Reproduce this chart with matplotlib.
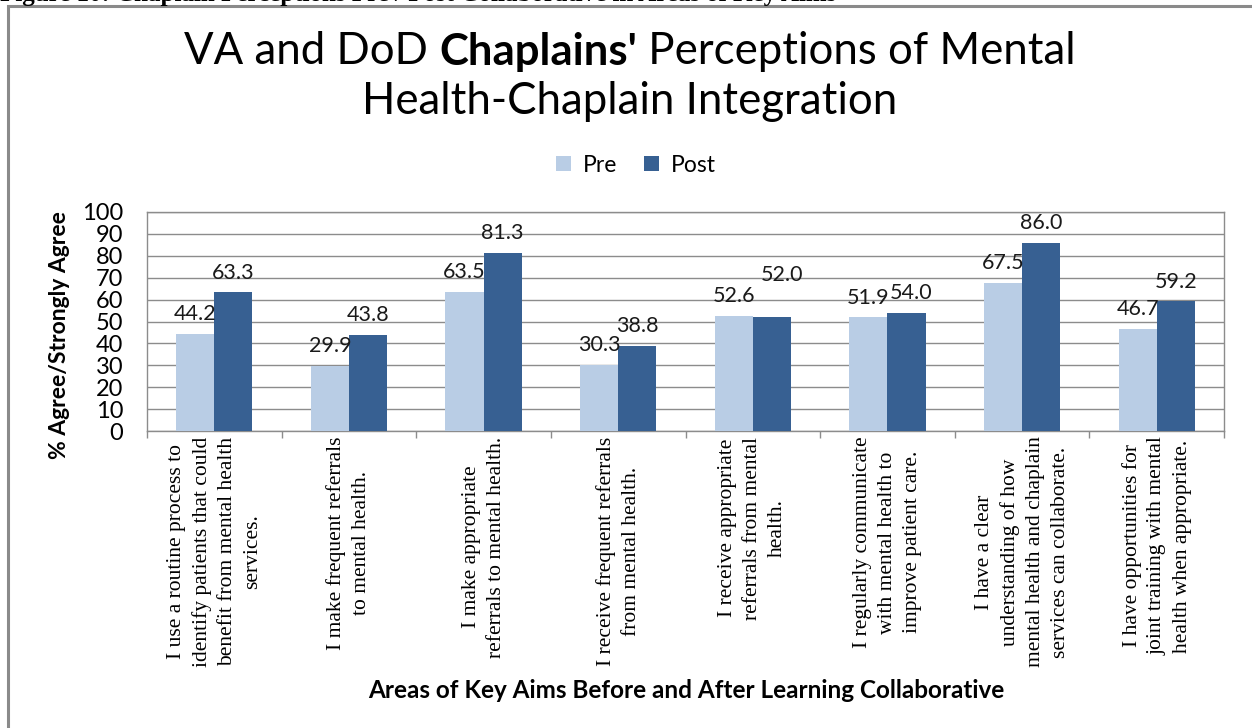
import matplotlib
matplotlib.use("Agg")
import matplotlib.pyplot as plt
from matplotlib.patches import Rectangle
import numpy as np

categories = [
    "I use a routine process to\nidentify patients that could\nbenefit from mental health\nservices.",
    "I make frequent referrals\nto mental health.",
    "I make appropriate\nreferrals to mental health.",
    "I receive frequent referrals\nfrom mental health.",
    "I receive appropriate\nreferrals from mental\nhealth.",
    "I regularly communicate\nwith mental health to\nimprove patient care.",
    "I have a clear\nunderstanding of how\nmental health and chaplain\nservices can collaborate.",
    "I have opportunities for\njoint training with mental\nhealth when appropriate.",
]
pre = [44.2, 29.9, 63.5, 30.3, 52.6, 51.9, 67.5, 46.7]
post = [63.3, 43.8, 81.3, 38.8, 52.0, 54.0, 86.0, 59.2]
series_names = ["Pre", "Post"]
yticks = list(range(0, 101, 10))

# label nudges (points) for the Post series, as placed in the original
post_label_nudge = [(0, 0), (0, 0), (0, 0), (0, 0), (7, 16), (3, 0), (0, 0), (0, 0)]

PRE_C = "#B9CDE5"
POST_C = "#376092"
GRID_C = "#8C8C8C"
SANS = ["Lato", "DejaVu Sans"]
SERIF = ["Liberation Serif", "DejaVu Serif"]

W, H = 1252, 728
fig = plt.figure(figsize=(W / 100, H / 100), dpi=100)

# outer border of the chart box
fig.patches.append(Rectangle((7.5 / W, -0.05), 1.2, (H - 6.5) / H + 0.05,
                             transform=fig.transFigure, fill=False,
                             edgecolor="#8A8A8A", linewidth=2.2))

# cropped document caption at the very top
fig.text(0.0, 1 - 1.5 / H, "Figure 10: Chaplain Perceptions Pre / Post Collaborative in Areas of Key Aims",
         family=SERIF, weight="bold", fontsize=18, va="baseline", ha="left")

ax = fig.add_axes([147 / W, 1 - 431 / H, (1224 - 147) / W, (431 - 212) / H])
x = np.arange(len(categories))
bw = 0.283
b1 = ax.bar(x - bw / 2, pre, bw, color=PRE_C, label=series_names[0], zorder=3)
b2 = ax.bar(x + bw / 2, post, bw, color=POST_C, label=series_names[1], zorder=3)

for rect, v in zip(b1, pre):
    ax.annotate(f"{v:.1f}", (rect.get_x() + rect.get_width() / 2, v),
                xytext=(0, 7), textcoords="offset points", ha="center", va="bottom",
                family=SANS, fontsize=15.5, color="#1a1a1a")
for rect, v, (dx, dy) in zip(b2, post, post_label_nudge):
    ax.annotate(f"{v:.1f}", (rect.get_x() + rect.get_width() / 2, v),
                xytext=(dx, 7 + dy), textcoords="offset points", ha="center", va="bottom",
                family=SANS, fontsize=15.5, color="#1a1a1a")

ax.set_xlim(-0.5, len(categories) - 0.5)
ax.set_ylim(0, 100)
ax.set_yticks(yticks)
ax.set_yticklabels([str(t) for t in yticks], family=SANS, fontsize=17)
ax.tick_params(axis="y", length=0, pad=17)
ax.yaxis.grid(True, color=GRID_C, linewidth=1.0, zorder=0)
ax.set_axisbelow(True)

ax.set_xticks(x)
ax.set_xticklabels(categories, rotation=90, family=SERIF, fontsize=15.5,
                   ha="center", va="top", multialignment="center", linespacing=1.42)
ax.tick_params(axis="x", which="major", length=0, pad=4)
ax.set_xticks(np.arange(-0.5, len(categories)), minor=True)
ax.tick_params(axis="x", which="minor", length=5, color=GRID_C, width=1)

for s in ax.spines.values():
    s.set_color(GRID_C)
    s.set_linewidth(1.0)

fig.text(60 / W, 1 - 335 / H, "% Agree/Strongly Agree", family=SANS, weight="bold",
         fontsize=16.5, rotation=90, ha="center", va="center")

fig.text(686 / W, 1 - 690 / H, "Areas of Key Aims Before and After Learning Collaborative",
         family=SANS, weight="bold", fontsize=17.5, ha="center", va="center")

leg = fig.legend(handles=[b1, b2], labels=series_names, loc="center",
                 bbox_to_anchor=(636 / W, 1 - 165 / H), ncol=2, frameon=False,
                 prop={"family": SANS, "size": 16.5}, handlelength=0.65, handleheight=0.65,
                 handletextpad=0.5, columnspacing=1.2)

# Title with mixed weights
fig.canvas.draw()
r = fig.canvas.get_renderer()
parts = [("VA and DoD ", "normal"), ("Chaplains'", "bold"), (" Perceptions of Mental", "normal")]
fs = 31.5
texts = []
for s, wgt in parts:
    t = fig.text(0, 1 - 52 / H, s, family=SANS, weight=wgt, fontsize=fs, ha="left", va="center")
    texts.append(t)
widths = [t.get_window_extent(r).width for t in texts]
total = sum(widths)
cx = 630
xpos = cx - total / 2
for t, w in zip(texts, widths):
    t.set_x(xpos / W)
    xpos += w
fig.text(630 / W, 1 - 102 / H, "Health-Chaplain Integration", family=SANS, fontsize=fs,
         ha="center", va="center")

fig.savefig("out.png", dpi=100)
